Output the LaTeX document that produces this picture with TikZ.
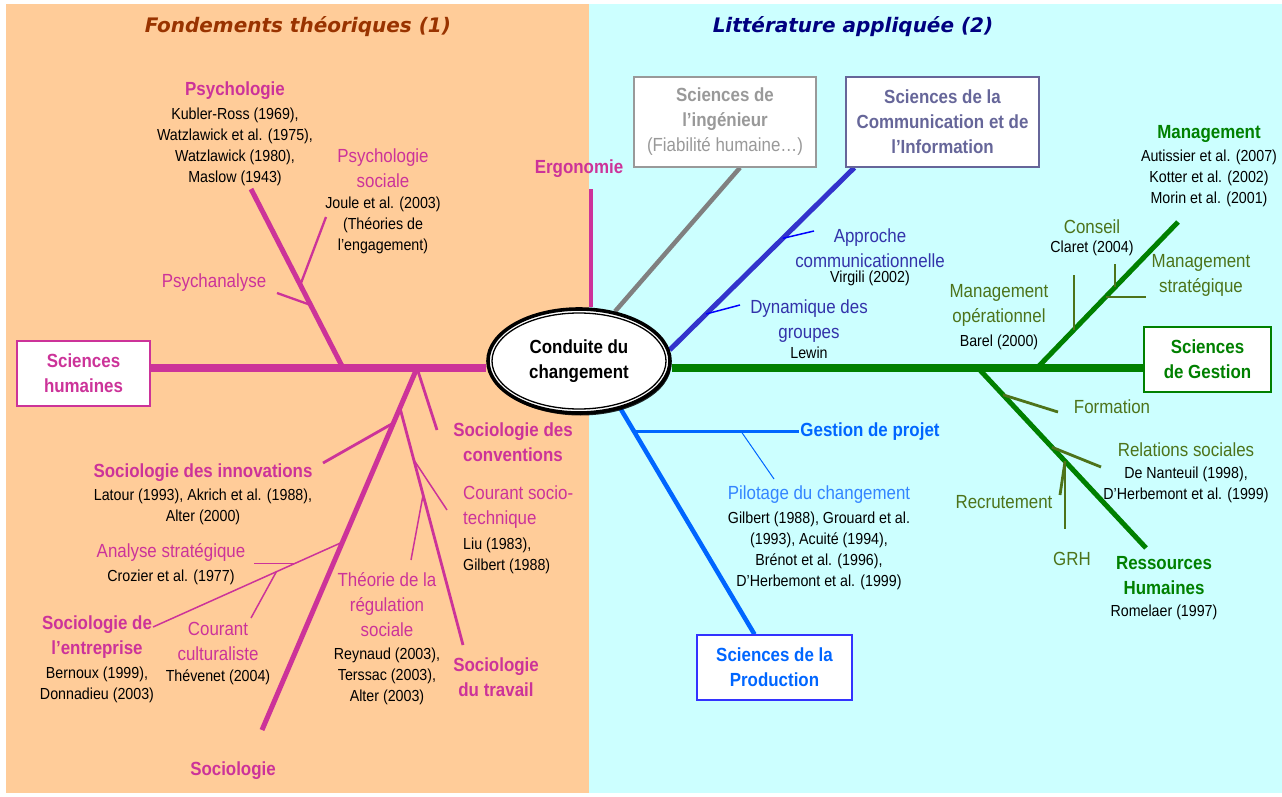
\documentclass[tikz,border=0pt]{standalone}
\usepackage{fontspec}
\setmainfont{Liberation Sans}[FakeStretch=0.89]
\newfontfamily\titlefont{DejaVu Sans}
\usetikzlibrary{shapes,positioning,calc,shadows}

\definecolor{peach}{RGB}{255,204,153}
\definecolor{aqua}{RGB}{204,255,255}
\definecolor{mag}{RGB}{204,51,153}
\definecolor{brownt}{RGB}{153,51,0}
\definecolor{navyt}{RGB}{0,0,128}
\definecolor{greyl}{RGB}{128,128,128}
\definecolor{greyt}{RGB}{153,153,153}
\definecolor{commb}{RGB}{51,51,204}
\definecolor{commt}{RGB}{102,102,153}
\definecolor{commsub}{RGB}{51,51,170}
\definecolor{commtwig}{RGB}{0,0,255}
\definecolor{gest}{RGB}{0,128,0}
\definecolor{mgtolive}{RGB}{77,115,26}
\definecolor{prodb}{RGB}{0,102,255}
\definecolor{prodl}{RGB}{51,133,255}
\definecolor{prodbox}{RGB}{51,51,255}

\newcommand\lblfont{\fontsize{19}{25}\selectfont}
\newcommand\reffont{\fontsize{16}{21}\selectfont}

\pgfdeclarelayer{panels}
\pgfdeclarelayer{lines}
\pgfsetlayers{panels,lines,main}

\tikzstyle{every node}=[font=\lblfont, align=center, inner sep=1pt]
\tikzstyle{head} = [font=\lblfont\bfseries]
\tikzstyle{refs} = [font=\reffont, text=black]
\tikzstyle{box} = [rectangle, draw, fill=white, line width=1.3pt,
    font=\lblfont\bfseries, inner sep=0pt]
\tikzstyle{rim} = [ellipse, draw=black, fill=white, line width=3.6pt,
    minimum width=182pt, minimum height=104pt, inner sep=0pt,
    drop shadow={shadow xshift=1.5pt, shadow yshift=-2.5pt, fill=black, opacity=0.85}]
\tikzstyle{centre} = [ellipse, draw=black, fill=white, line width=1.3pt,
    minimum width=174pt, minimum height=96pt, font=\lblfont\bfseries, inner sep=0pt]
\tikzstyle{paneltitle} = [font=\titlefont\fontsize{20}{24}\selectfont\bfseries\itshape]
\tikzstyle{spine} = [line width=7.5pt]
\tikzstyle{bone} = [line width=5pt]
\tikzstyle{rib} = [line width=2.8pt]
\tikzstyle{twig} = [line width=1.5pt]

\begin{document}
\begin{tikzpicture}[x=1pt, y=-1pt]
    \useasboundingbox (0,0) rectangle (1282,797);
    \begin{pgfonlayer}{panels}
    \fill[peach] (6,4) rectangle (589,793);
    \fill[aqua] (589,4) rectangle (1282,793);
    \end{pgfonlayer}

    % Place nodes
    \node [paneltitle, text=brownt] (tleft) at (298,27) {Fondements théoriques (1)};
    \node [paneltitle, text=navyt] (tright) at (853,27) {Littérature appliquée (2)};
    \node [rim] (cdcrim) at (579,361) {};
    \node [centre] (cdc) at (579,361) {Conduite du\\changement};
    \coordinate (axis) at (0,368);

    % Sciences humaines
    \node [box, draw=mag, text=mag, minimum width=133pt, minimum height=65pt] (sh) at (83.5,373.5) {Sciences\\humaines};
    \node [head, text=mag] (psy) at (235,91) {Psychologie};
    \node [refs, below of=psy, node distance=56pt] (psyref) {Kubler-Ross (1969),\\Watzlawick et al. (1975),\\Watzlawick (1980),\\Maslow (1943)};
    \node [text=mag] (psoc) at (383,168) {Psychologie\\sociale};
    \node [refs, below of=psoc, node distance=57pt] (psocref) {Joule et al. (2003)\\(Théories de\\l’engagement)};
    \node [text=mag] (pch) at (214,283) {Psychanalyse};
    \node [head, text=mag] (ergo) at (579,169) {Ergonomie};
    \node [head, text=mag] (sconv) at (513,442.5) {Sociologie des\\conventions};
    \node [anchor=west, align=left, text=mag] (cst) at (462,507.5) {Courant socio-\\technique};
    \node [refs, anchor=west, align=left] (cstref) at (462,555.5) {Liu (1983),\\Gilbert (1988)};
    \node [text=mag] (treg) at (387,605) {Théorie de la\\régulation\\sociale};
    \node [refs, below of=treg, node distance=71pt] (tregref) {Reynaud (2003),\\Terssac (2003),\\Alter (2003)};
    \node [head, text=mag] (strav) at (496,677) {Sociologie\\du travail};
    \node [head, text=mag] (sinnov) at (203,473) {Sociologie des innovations};
    \node [refs, below of=sinnov, node distance=33.5pt] (sinnovref) {Latour (1993), Akrich et al. (1988),\\Alter (2000)};
    \node [text=mag] (ana) at (171,552) {Analyse stratégique};
    \node [refs, below of=ana, node distance=25pt] (anaref) {Crozier et al. (1977)};
    \node [head, text=mag] (sentr) at (97,637.5) {Sociologie de\\l’entreprise};
    \node [refs, below of=sentr, node distance=47pt] (sentrref) {Bernoux (1999),\\Donnadieu (2003)};
    \node [text=mag] (cult) at (218,641) {Courant\\culturaliste};
    \node [refs, below of=cult, node distance=36pt] (cultref) {Thévenet (2004)};
    \node [head, text=mag] (socio) at (233,771) {Sociologie};

    % Litterature appliquee
    \node [box, draw=greyt, text=greyt, minimum width=182pt, minimum height=90pt] (ing) at (725,122) {Sciences de\\l’ingénieur\\\textmd{(Fiabilité humaine…)}};
    \node [box, draw=commt, text=commt, minimum width=193pt, minimum height=90pt] (comm) at (942.5,122) {Sciences de la\\Communication et de\\l’Information};
    \node [text=commsub] (appr) at (870,248) {Approche\\communicationnelle};
    \node [refs, below of=appr, node distance=30pt] (apprref) {Virgili (2002)};
    \node [text=commsub] (dyn) at (809,321.5) {Dynamique des\\groupes};
    \node [refs, below of=dyn, node distance=31.5pt] (dynref) {Lewin};
    \node [box, draw=gest, text=gest, minimum width=127pt, minimum height=65pt] (ges) at (1207.5,359.5) {Sciences\\de Gestion};
    \node [head, text=gest] (mgt) at (1209,134) {Management};
    \node [refs, below of=mgt, node distance=44.5pt] (mgtref) {Autissier et al. (2007)\\Kotter et al. (2002)\\Morin et al. (2001)};
    \node [text=mgtolive] (cons) at (1092,227) {Conseil};
    \node [refs, below of=cons, node distance=21pt] (consref) {Claret (2004)};
    \node [text=mgtolive] (ms) at (1201,275.5) {Management\\stratégique};
    \node [text=mgtolive] (mo) at (999,305.5) {Management\\opérationnel};
    \node [refs, below of=mo, node distance=36.5pt] (moref) {Barel (2000)};
    \node [text=mgtolive] (form) at (1112,407) {Formation};
    \node [text=mgtolive] (rs) at (1186,450) {Relations sociales};
    \node [refs, below of=rs, node distance=34.5pt] (rsref) {De Nanteuil (1998),\\D’Herbemont et al. (1999)};
    \node [text=mgtolive] (recr) at (1004,502) {Recrutement};
    \node [text=mgtolive] (grh) at (1072,559) {GRH};
    \node [head, text=gest] (rh) at (1164,575.5) {Ressources\\Humaines};
    \node [refs, below of=rh, node distance=36.5pt] (rhref) {Romelaer (1997)};
    \node [head, text=prodb] (gdp) at (870,432) {Gestion de projet};
    \node [text=prodl] (pil) at (819,495) {Pilotage du changement};
    \node [refs, below of=pil, node distance=55.75pt] (pilref) {Gilbert (1988), Grouard et al.\\(1993), Acuité (1994),\\Brénot et al. (1996),\\D’Herbemont et al. (1999)};
    \node [box, draw=prodbox, text=prodb, minimum width=155pt, minimum height=65pt] (prod) at (774.5,667.5) {Sciences de la\\Production};

    % Draw edges
    \begin{pgfonlayer}{lines}
    \coordinate (psyE) at (251,189);
    \coordinate (jPsy) at (343,368);
    \coordinate (jSoc) at (417,368);
    \coordinate (socE) at (262,730);
    \coordinate (ergoE) at (591,189);
    \coordinate (jPsoc) at ($(psyE)!0.536!(jPsy)$);
    \coordinate (jPch) at ($(psyE)!0.648!(jPsy)$);
    \coordinate (jTrav) at ($(jSoc)!0.11!(socE)$);
    \coordinate (jInnov) at ($(jSoc)!0.152!(socE)$);
    \coordinate (jEntr) at ($(jSoc)!0.481!(socE)$);
    \coordinate (travE) at (463,645);
    \coordinate (jCst) at ($(jTrav)!0.219!(travE)$);
    \coordinate (jTreg) at ($(jTrav)!0.367!(travE)$);
    \coordinate (entrE) at (153,627);
    \coordinate (jAna) at ($(jEntr)!0.249!(entrE)$);
    \coordinate (jCult) at ($(jEntr)!0.349!(entrE)$);

    \draw [spine, mag] (sh.east |- axis) -- (cdcrim.west |- axis);
    \draw [bone, mag] (psyE) -- (jPsy);
    \draw [rib, mag, line width=2.3pt] (326,217) -- (jPsoc);
    \draw [rib, mag, line width=2.3pt] (277,293) -- (jPch);
    \draw [bone, mag, line width=4.5pt] (ergoE) -- (ergoE |- cdcrim.north);
    \draw [bone, mag] (jSoc) -- (socE);
    \draw [rib, mag] (jSoc) -- (437,430);
    \draw [rib, mag] (jTrav) -- (travE);
    \draw [twig, mag] (jCst) -- (447,510);
    \draw [twig, mag] (jTreg) -- (411,560);
    \draw [rib, mag] (jInnov) -- (323,463);
    \draw [twig, mag] (jEntr) -- (entrE);
    \draw [twig, mag] (jAna) -- (jAna -| 254,0);
    \draw [twig, mag] (jCult) -- (251,618);

    \coordinate (ingB) at ([xshift=15pt]ing.south);
    \coordinate (commB) at ([xshift=9pt]comm.south west);
    \coordinate (prodT) at ([xshift=-20pt]prod.north);
    \coordinate (jAppr) at ($(cdcrim.7)!0.612!(commB)$);
    \coordinate (jDyn) at ($(cdcrim.7)!0.197!(commB)$);
    \coordinate (jMgt) at (1037,368);
    \coordinate (mgtE) at (1178,222);
    \coordinate (jRH) at (978,368);
    \coordinate (rhE) at (1146,548);
    \coordinate (jCons) at ($(jMgt)!0.553!(mgtE)$);
    \coordinate (jMS) at ($(jMgt)!0.486!(mgtE)$);
    \coordinate (jMO) at ($(jMgt)!0.262!(mgtE)$);
    \coordinate (jForm) at ($(jRH)!0.149!(rhE)$);
    \coordinate (jRS) at ($(jRH)!0.44!(rhE)$);
    \coordinate (jGRH) at ($(jRH)!0.518!(rhE)$);
    \coordinate (jGdp) at ($(cdcrim.311)!0.0987!(prodT)$);
    \coordinate (jPil) at (jGdp -| 741,0);

    \draw [bone, greyl, line width=4.5pt] (cdcrim.54) -- (ingB);
    \draw [bone, commb] (cdcrim.7) -- (commB);
    \draw [twig, commtwig] (jAppr) -- (814,231);
    \draw [twig, commtwig] (jDyn) -- (740,305);
    \draw [spine, gest] (cdcrim.east |- axis) -- (ges.west |- axis);
    \draw [bone, gest] (jMgt) -- (mgtE);
    \draw [rib, mgtolive] (jCons) -- (jCons |- 0,264);
    \draw [rib, mgtolive] (jMS) -- (jMS -| 1146,0);
    \draw [rib, mgtolive] (jMO) -- (jMO |- 0,275);
    \draw [bone, gest] (jRH) -- (rhE);
    \draw [rib, mgtolive] (jForm) -- (1058,412);
    \draw [rib, mgtolive] (jRS) -- (1101,467);
    \draw [rib, mgtolive] (jGRH) -- (jGRH |- 0,529);
    \draw [rib, mgtolive] (jGRH) -- (1060,495);
    \draw [bone, prodb, line width=4.5pt] (cdcrim.311) -- (prodT);
    \draw [rib, prodb] (jGdp) -- (jGdp -| gdp.west);
    \draw [twig, prodb, line width=1pt] (jPil) -- (774,479);
    \end{pgfonlayer}
\end{tikzpicture}
\end{document}
